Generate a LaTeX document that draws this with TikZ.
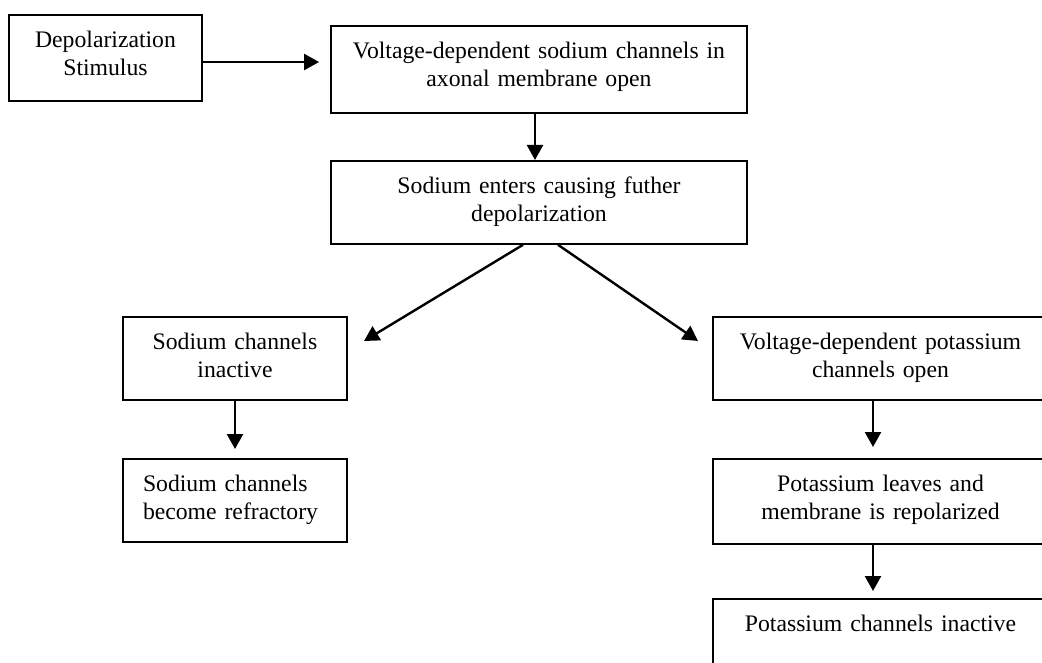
\documentclass[tikz,border=0pt]{standalone}
\usepackage{fontspec}
\setmainfont{Liberation Serif}
\usetikzlibrary{arrows.meta,calc}
\begin{document}
\begin{tikzpicture}[x=1bp,y=-1bp,
  box/.style={draw, line width=1.8bp, anchor=north, inner xsep=8bp, inner ysep=0pt,
    text height=33bp, align=center, font=\fontsize{23.7bp}{28bp}\selectfont},
  flow/.style={line width=2.4bp, -{Triangle[length=15bp,width=16bp]}}]
\useasboundingbox (0,0) rectangle (1042,663);
\clip (0,0) rectangle (1042,663);

% process boxes (text width = box width - 2 x inner xsep)
\node[box, text width=177bp, text depth=53bp] (stim) at (105.5,14) {Depolarization\\Stimulus};
\node[box, text width=400bp, text depth=54bp] (naopen) at (539,25) {Voltage-dependent sodium channels in\\axonal membrane open};
\node[box, text width=400bp, text depth=50bp] (naenter) at (539,160) {Sodium enters causing futher\\depolarization};
\node[box, text width=208bp, text depth=50bp] (nainact) at (235,316) {Sodium channels\\inactive};
\node[box, inner xsep=20bp, text width=184bp, text depth=50bp, align=left] (naref) at (235,458) {Sodium channels\\become refractory};
\node[box, text width=319bp, text depth=50bp] (kopen) at (880.5,316) {Voltage-dependent potassium\\channels open};
\node[box, text width=319bp, text depth=52bp] (kleave) at (880.5,458) {Potassium leaves and\\membrane is repolarized};
\node[box, text width=319bp, text depth=51bp] (kinact) at (880.5,598) {Potassium channels inactive};

% arrow end points that stop short of their boxes
\coordinate (stimrow) at (320,62);
\coordinate (tipL) at (364,341);
\coordinate (tipR) at (698,341);

% connectors
\draw[flow] (stim.east |- stimrow) -- (naopen.west |- stimrow) [shorten >=11bp];
\draw[flow] ($(naopen.south)+(-4,0)$) -- ($(naenter.north)+(-4,0)$);
\draw[flow] ($(naenter.south)+(-16,0)$) -- (tipL);
\draw[flow] ($(naenter.south)+(19,0)$) -- (tipR);
\draw[flow, shorten >=9bp] (nainact.south) -- (naref.north);
\draw[flow, shorten >=11bp] ($(kopen.south)+(-7.5,0)$) -- ($(kleave.north)+(-7.5,0)$);
\draw[flow, shorten >=7bp] ($(kleave.south)+(-7.5,0)$) -- ($(kinact.north)+(-7.5,0)$);
\end{tikzpicture}
\end{document}
